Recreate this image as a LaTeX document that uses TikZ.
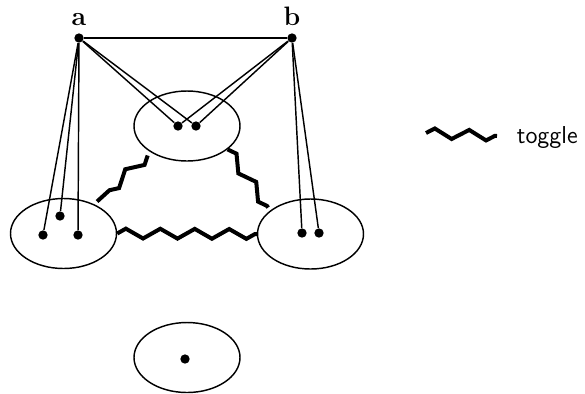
\documentclass[tikz,border=0pt]{standalone}
\usetikzlibrary{shapes.geometric,decorations.pathmorphing}
\begin{document}
\begin{tikzpicture}[x=0.45pt, y=-0.45pt,
    font=\fontsize{11}{13}\selectfont,
    dot/.style={circle, fill, inner sep=0pt, minimum size=4.2pt},
    blob/.style={draw, ellipse, line width=0.65pt, inner sep=0pt, minimum width=47.7pt, minimum height=31.5pt},
    wire/.style={line width=0.65pt},
    toggle/.style={line width=1.8pt, decorate, decoration={zigzag, segment length=15.5pt, amplitude=2.2pt}}]
    \useasboundingbox (0,0) rectangle (585,393);
    \draw
    (187,126)node(c1)[blob]{}
    (63.5,233.5)node(c2)[blob]{}
    (310.5,234)node(c3)[blob]{}
    (187,357.5)node(c4)[blob]{}
    (79,38)node(a)[dot, label={[font=\fontsize{12}{14}\selectfont, inner sep=3pt]above:\textbf{a}}]{}
    (292,38)node(b)[dot, label={[font=\fontsize{12}{14}\selectfont, inner sep=3pt]above:\textbf{b}}]{}
    (178,126)node(t1)[dot]{}
    (196,126)node(t2)[dot]{}
    (43,235)node(l1)[dot]{}
    (60,216)node(l2)[dot]{}
    (78,235)node(l3)[dot]{}
    (302,233)node(r1)[dot]{}
    (319,233)node(r2)[dot]{}
    (185,359)node(m1)[dot]{};
    %
    \draw [wire](a)--(b);
    \draw [wire](a)--(t1);
    \draw [wire](a)--(t2);
    \draw [wire](b)--(t1);
    \draw [wire](b)--(t2);
    \draw [wire](a)--(l1);
    \draw [wire](a)--(l2);
    \draw [wire](a)--(l3);
    \draw [wire](b)--(r1);
    \draw [wire](b)--(r2);
    %
    \draw [toggle]([shift={(-3.8,2.7)}]c1.217)--([shift={(3.1,-2.6)}]c2.44);
    \draw [toggle](c1.330)--([shift={(-3.2,-2)}]c3.148.7);
    \draw [toggle](c2.east)--(c3.west);
    %
    \coordinate (k1) at (426,133);
    \coordinate (k2) at (497,136);
    \draw [toggle](k1)--(k2);
    \node (key)[anchor=base west] at (509,143) {\sffamily toggle};
\end{tikzpicture}
\end{document}
